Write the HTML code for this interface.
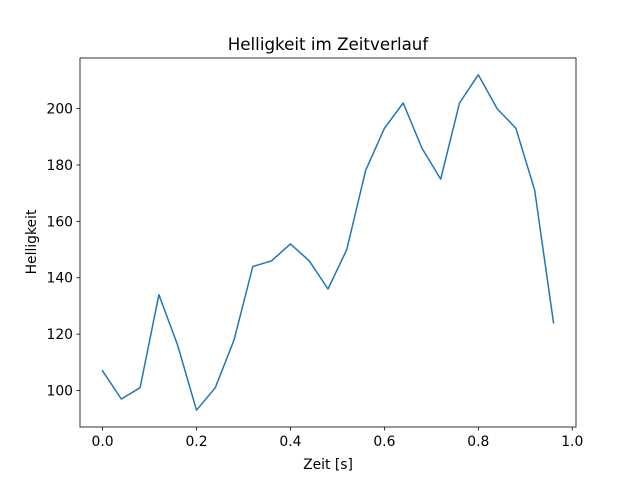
<!DOCTYPE html>
<html><head><meta charset="utf-8"><style>
html,body{margin:0;padding:0;background:#fff;}
svg text{font-family:"DejaVu Sans","Liberation Sans",sans-serif;fill:#000;}
</style></head><body>
<svg id="s" width="640" height="480" xmlns="http://www.w3.org/2000/svg">
<rect width="640" height="480" fill="#fff"/>
<text x="328" y="50" font-size="16.7" text-anchor="middle">Helligkeit im Zeitverlauf</text>
<text x="328" y="469" font-size="13.9" text-anchor="middle">Zeit [s]</text>
<text transform="translate(36,242) rotate(-90)" font-size="13.9" text-anchor="middle">Helligkeit</text>
<g id="g"></g>
<rect x="80" y="58" width="496" height="369" fill="none" stroke="#000" stroke-width="0.8"/>
</svg>
<script>
var vals=[107,97,101,134,116,93,101,118,144,146,152,146,136,150,178,193,202,186,175,202,212,200,193,171,124];
function X(v){return 80+(v+0.048)*496/1.056;}
function Y(v){return 427-(v-87.05)*369/130.9;}
var h='';
var pts=vals.map(function(v,i){return X(i*0.04).toFixed(1)+','+Y(v).toFixed(1);}).join(' ');
h+='<polyline points="'+pts+'" fill="none" stroke="#1f77b4" stroke-width="1.5" stroke-linejoin="round" stroke-linecap="square"/>';
[0,0.2,0.4,0.6,0.8,1.0].forEach(function(t){var x=X(t);
h+='<line x1="'+x+'" y1="427" x2="'+x+'" y2="430.5" stroke="#000" stroke-width="0.8"/>';
h+='<text x="'+x+'" y="446" font-size="13.9" text-anchor="middle">'+t.toFixed(1)+'</text>';});
[100,120,140,160,180,200].forEach(function(t){var y=Y(t);
h+='<line x1="76.5" y1="'+y+'" x2="80" y2="'+y+'" stroke="#000" stroke-width="0.8"/>';
h+='<text x="73" y="'+(y+5)+'" font-size="13.9" text-anchor="end">'+t+'</text>';});
document.getElementById('g').innerHTML=h;
</script>
</body></html>
